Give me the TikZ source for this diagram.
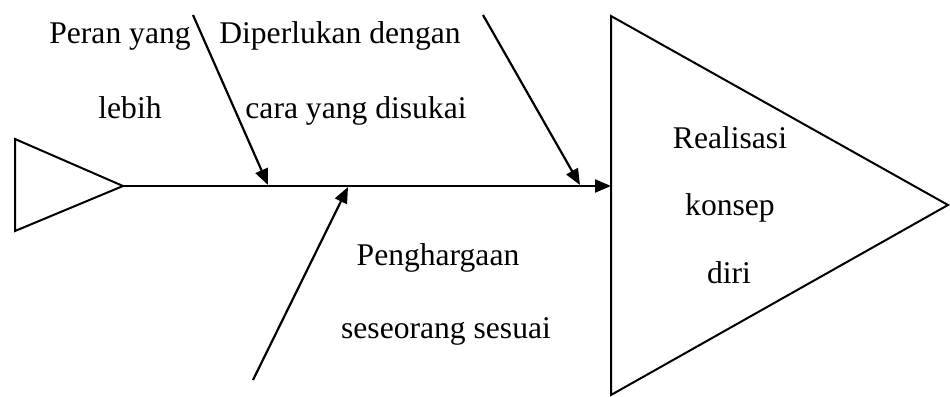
\documentclass[tikz,border=0pt]{standalone}
\usepackage{fontspec}
\setmainfont{Liberation Serif}
\usepackage{tikz}
\usetikzlibrary{arrows.meta}
\tikzstyle{lbl}=[anchor=base,inner sep=0pt,font=\fontsize{15.8}{18}\selectfont]
\tikzstyle{to}=[-{Triangle[length=8pt,width=6.5pt]},line width=1.1pt]
\tikzstyle{common}=[line width=1pt,line join=miter]

\begin{document}
\begin{tikzpicture}[x=0.5pt,y=-0.5pt]
            \useasboundingbox (0,0) rectangle (950,397);
            % tail and head
            \coordinate (T1) at (15,139);
            \coordinate (T2) at (123,186);
            \coordinate (T3) at (15,231);
            \coordinate (H1) at (611,16);
            \coordinate (H2) at (948,205);
            \coordinate (H3) at (611,395);
            \draw[common] (T1) -- (T2) -- (T3) -- cycle;
            \draw[common] (H1) -- (H2) -- (H3) -- cycle;
            \draw[to] (T2) -- (611,186) coordinate (spine);
            % bones
            \coordinate (A1) at (193,15);
            \coordinate (A2) at (268,185);
            \coordinate (B1) at (483,15);
            \coordinate (B2) at (580,185);
            \coordinate (C1) at (253,380);
            \coordinate (C2) at (348,187);
            \draw[to] (A1) -- (A2);
            \draw[to] (B1) -- (B2);
            \draw[to] (C1) -- (C2);
            % labels
            \node[lbl] (peran) at (120,43) {Peran yang};
            \node[lbl] (lebih) at (130,118) {lebih};
            \node[lbl] (perlu) at (340,43) {Diperlukan dengan};
            \node[lbl] (cara) at (356,118) {cara yang disukai};
            \node[lbl] (harga) at (438,265) {Penghargaan};
            \node[lbl] (sesuai) at (446,338) {seseorang sesuai};
            \node[lbl] (real) at (730,148) {Realisasi};
            \node[lbl] (konsep) at (730,215) {konsep};
            \node[lbl] (diri) at (729,283) {diri};
        \end{tikzpicture}
\end{document}
